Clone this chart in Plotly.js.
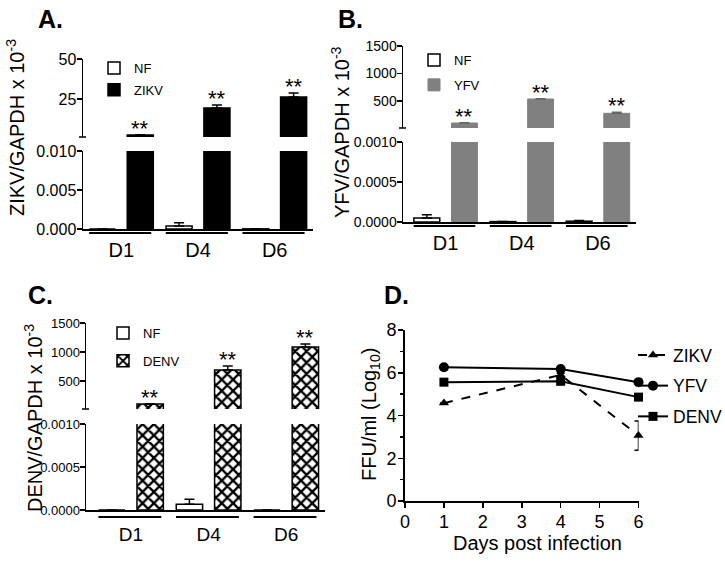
<!DOCTYPE html>
<html>
<head>
<meta charset="utf-8">
<script src="https://cdn.plot.ly/plotly-3.0.1.min.js"></script>
<style>html,body{margin:0;padding:0;background:#fff;}#chart{width:725px;height:564px;}</style>
</head>
<body>
<div id="chart"></div>
<script>
// ---------- DATA ----------
const days = ['D1', 'D4', 'D6'];
// Panel A : ZIKV/GAPDH x 10^-3
const nfA = [0, 0.0004, 0.00002];
const nfAErr = [0, 0.0004, 0];
const zikvA = [2.5, 19.4, 26.2];
const zikvAErr = [0.2, 1.9, 2.5];
// Panel B : YFV/GAPDH x 10^-3
const nfB = [0.00005, 0.000005, 0.00001];
const nfBErr = [0.00004, 0, 0.00001];
const yfvB = [100, 536, 276];
const yfvBErr = [4, 4, 20];
// Panel C : DENV/GAPDH x 10^-3
const nfC = [0, 0.000066, 0];
const nfCErr = [0, 0.00006, 0];
const denvC = [103, 689, 1086];
const denvCErr = [4, 69, 52];
// Panel D : FFU/ml (Log10)
const daysPI = [1, 4, 6];
const zikvD = [4.58, 5.9, 3.06];
const zikvDErr = [0, 0.08, 0.68];
const yfvD = [6.26, 6.17, 5.56];
const yfvDErr = [0, 0, 0];
const denvD = [5.56, 5.6, 4.86];
const denvDErr = [0, 0, 0];

// ---------- HELPERS ----------
const W = 725, H = 564;
const px = v => v / W;
const py = v => 1 - v / H;
const FONT = 'Arial, "Liberation Sans", sans-serif';
const catPos = days.map((d, i) => i);
const zeros = n => new Array(n).fill(0);
const BW = 0.34, NF_OFF = -0.417, INF_OFF = 0.077;

const traces = [];
const shapes = [];
const annotations = [];
const layout = {
  width: W, height: H,
  margin: {l: 0, r: 0, t: 0, b: 0, autoexpand: false},
  paper_bgcolor: 'white', plot_bgcolor: 'rgba(0,0,0,0)',
  font: {family: FONT, color: 'black'},
  barmode: 'overlay',
  showlegend: true
};

function axName(id) { return id.charAt(0) + 'axis' + id.slice(1); }

function barPanel(c) {
  // NF bars only matter in the lower segment
  traces.push({
    type: 'bar', x: catPos, y: c.nf, width: BW, offset: NF_OFF,
    xaxis: c.x, yaxis: c.lo, name: 'NF', legend: c.legend, legendgroup: c.legend + 'NF',
    marker: {color: 'white', line: {color: 'black', width: 1.5}},
    error_y: {type: 'data', array: c.nfErr, arrayminus: zeros(3), symmetric: false,
              color: 'black', thickness: 1.5, width: 5},
    hoverinfo: 'skip'
  });
  [c.lo, c.hi].forEach((ya, k) => {
    traces.push({
      type: 'bar', x: catPos, y: c.inf, width: BW, offset: INF_OFF,
      xaxis: c.x, yaxis: ya, name: c.infName, legend: c.legend, legendgroup: c.legend + 'INF',
      showlegend: k === 0,
      marker: c.marker,
      error_y: {type: 'data', array: c.infErr, arrayminus: zeros(3), symmetric: false,
                color: c.errColor, thickness: 1.5, width: 5},
      hoverinfo: 'skip'
    });
  });
  layout[axName(c.x)] = {
    domain: [px(c.xd[0]), px(c.xd[1])], range: c.xr, anchor: c.lo,
    showline: true, linewidth: 2, linecolor: 'black', ticks: '',
    tickmode: 'array', tickvals: catPos, ticktext: days,
    tickfont: {size: c.xtf}, ticklabelstandoff: c.xso,
    showgrid: false, zeroline: false, fixedrange: true
  };
  const yCommon = {
    anchor: c.x, showline: true, linewidth: 1.5, linecolor: 'black',
    ticks: 'outside', ticklen: 5, tickwidth: 1.5, tickcolor: 'black',
    tickfont: {size: c.ytf}, ticklabelstandoff: -3,
    showgrid: false, zeroline: false, fixedrange: true,
    tickmode: 'array'
  };
  layout[axName(c.lo)] = Object.assign({}, yCommon, {
    domain: [py(c.loD[0]), py(c.loD[1])], range: c.loR,
    tickvals: c.loTicks, ticktext: c.loText
  });
  layout[axName(c.hi)] = Object.assign({}, yCommon, {
    domain: [py(c.hiD[0]), py(c.hiD[1])], range: c.hiR,
    tickvals: c.hiTicks, ticktext: c.hiTicks.map(String)
  });
  // small end tick at the bottom of the upper (broken) segment
  shapes.push({
    type: 'line', xref: c.x + ' domain', yref: c.hi + ' domain',
    xsizemode: 'pixel', xanchor: 0, x0: -4, x1: 3, y0: 0, y1: 0,
    line: {color: 'black', width: 1.5}
  });
  // group underlines
  catPos.forEach(i => {
    shapes.push({
      type: 'line', xref: c.x, yref: c.lo + ' domain',
      x0: i - 0.42, x1: i + 0.39, ysizemode: 'pixel', yanchor: 0, y0: -c.ul, y1: -c.ul,
      line: {color: 'black', width: 2}
    });
  });
  // significance stars
  c.inf.forEach((v, i) => {
    annotations.push({
      xref: c.x, yref: c.hi, x: i + INF_OFF + BW / 2, y: v + c.infErr[i],
      text: '**', showarrow: false, yanchor: 'bottom', yshift: -8,
      font: {size: 22, family: FONT}
    });
  });
  // y title spanning both segments
  annotations.push({
    xref: 'paper', yref: 'paper', x: px(c.title[1]), y: py(c.title[2]),
    text: c.title[0], textangle: -90, showarrow: false,
    xanchor: 'center', yanchor: 'middle', font: {size: 20, family: FONT}
  });
  annotations.push({
    xref: 'paper', yref: 'paper', x: px(c.label[1]), y: py(c.label[2]),
    text: '<b>' + c.label[0] + '</b>', showarrow: false,
    xanchor: 'left', yanchor: 'middle', font: {size: 25, family: FONT}
  });
  layout[c.legend] = {
    x: px(c.leg[0]), y: py(c.leg[1]), xanchor: 'left', yanchor: 'top',
    font: {size: 13, family: FONT}, bgcolor: 'rgba(0,0,0,0)',
    traceorder: 'grouped', tracegroupgap: c.leg[2],
    itemclick: false, itemdoubleclick: false
  };
}

barPanel({
  x: 'x', lo: 'y', hi: 'y2', legend: 'legend',
  nf: nfA, nfErr: nfAErr, inf: zikvA, infErr: zikvAErr, infName: 'ZIKV',
  marker: {color: 'black', line: {color: 'black', width: 1.5}}, errColor: 'black',
  xd: [83, 313], xr: [-0.5, 2.5], xtf: 20, xso: 2,
  loD: [229, 151], loR: [0, 0.01], loTicks: [0, 0.005, 0.01], loText: ['0.000', '0.005', '0.010'],
  hiD: [137, 59], hiR: [1.25, 50], hiTicks: [25, 50],
  ytf: 16, ul: 4,
  title: ['ZIKV/GAPDH x 10<sup>-3</sup>', 15, 128],
  label: ['A.', 36, 19],
  leg: [94, 53, 2]
});
barPanel({
  x: 'x2', lo: 'y3', hi: 'y4', legend: 'legend2',
  nf: nfB, nfErr: nfBErr, inf: yfvB, infErr: yfvBErr, infName: 'YFV',
  marker: {color: '#808080', line: {color: '#808080', width: 1}}, errColor: '#666',
  xd: [403, 636], xr: [-0.56, 2.5], xtf: 20, xso: 2,
  loD: [222, 142], loR: [0, 0.001], loTicks: [0, 0.0005, 0.001], loText: ['0.0000', '0.0005', '0.0010'],
  hiD: [128, 46], hiR: [9, 1500], hiTicks: [500, 1000, 1500],
  ytf: 14, ul: 4,
  title: ['YFV/GAPDH x 10<sup>-3</sup>', 340, 132],
  label: ['B.', 336, 19],
  leg: [414, 45, 5]
});
barPanel({
  x: 'x3', lo: 'y5', hi: 'y6', legend: 'legend3',
  nf: nfC, nfErr: nfCErr, inf: denvC, infErr: denvCErr, infName: 'DENV',
  marker: {color: 'white', line: {color: 'black', width: 1.5},
           pattern: {shape: 'x', fgcolor: 'black', bgcolor: 'white', size: 8, solidity: 0.5}},
  errColor: 'black',
  xd: [86, 325], xr: [-0.58, 2.5], xtf: 19, xso: 6,
  loD: [510, 424], loR: [0, 0.001], loTicks: [0, 0.0005, 0.001], loText: ['0.0000', '0.0005', '0.0010'],
  hiD: [409, 323], hiR: [17, 1500], hiTicks: [500, 1000, 1500],
  ytf: 13, ul: 7,
  title: ['DENV/GAPDH x 10<sup>-3</sup>', 33, 418],
  label: ['C.', 26, 295],
  leg: [103, 318, 8]
});

// ---------- PANEL D ----------
const dSeries = [
  {name: 'ZIKV', y: zikvD, err: zikvDErr, symbol: 'triangle-up', size: 9, dash: 'dash'},
  {name: 'YFV', y: yfvD, err: yfvDErr, symbol: 'circle', size: 10, dash: 'solid'},
  {name: 'DENV', y: denvD, err: denvDErr, symbol: 'square', size: 9, dash: 'solid'}
];
dSeries.forEach(s => {
  traces.push({
    type: 'scatter', mode: 'lines+markers', x: daysPI, y: s.y, name: s.name,
    xaxis: 'x4', yaxis: 'y7', legend: 'legend4', legendgroup: s.name, cliponaxis: false,
    line: {color: 'black', width: 2, dash: s.dash},
    marker: {color: 'black', symbol: s.symbol, size: s.size},
    error_y: {type: 'data', array: s.err, color: 'black', thickness: 1.5, width: 4},
    hoverinfo: 'skip'
  });
});
layout.xaxis4 = {
  domain: [px(405), px(638.5)], range: [0, 6], anchor: 'y7',
  showline: true, linewidth: 2, linecolor: 'black',
  ticks: 'outside', ticklen: 5, tickwidth: 1.5, tickcolor: 'black', dtick: 1,
  tickfont: {size: 18}, ticklabelstandoff: -2,
  showgrid: false, zeroline: false, fixedrange: true
};
layout.yaxis7 = {
  domain: [py(501), py(330)], range: [0, 8], anchor: 'x4',
  showline: true, linewidth: 2, linecolor: 'black',
  ticks: 'outside', ticklen: 5, tickwidth: 1.5, tickcolor: 'black', dtick: 2,
  minor: {ticks: 'outside', ticklen: 3, tickwidth: 1.5, tickcolor: 'black', dtick: 1, showgrid: false},
  tickfont: {size: 18}, ticklabelstandoff: -2,
  showgrid: false, zeroline: false, fixedrange: true
};
layout.legend4 = {
  x: px(633), y: py(337), xanchor: 'left', yanchor: 'top',
  font: {size: 17.5, family: FONT}, bgcolor: 'rgba(0,0,0,0)', tracegroupgap: 5,
  traceorder: 'grouped', itemclick: false, itemdoubleclick: false
};
annotations.push({
  xref: 'paper', yref: 'paper', x: px(537), y: py(543), text: 'Days post infection',
  showarrow: false, xanchor: 'center', yanchor: 'middle', font: {size: 20, family: FONT}
});
annotations.push({
  xref: 'paper', yref: 'paper', x: px(370), y: py(415), text: 'FFU/ml (Log<sub>10</sub>)',
  textangle: -90, showarrow: false, xanchor: 'center', yanchor: 'middle', font: {size: 20, family: FONT}
});
annotations.push({
  xref: 'paper', yref: 'paper', x: px(382), y: py(295), text: '<b>D.</b>',
  showarrow: false, xanchor: 'left', yanchor: 'middle', font: {size: 25, family: FONT}
});

layout.shapes = shapes;
layout.annotations = annotations;

Plotly.newPlot('chart', traces, layout, {staticPlot: true, displayModeBar: false});
</script>
</body>
</html>
